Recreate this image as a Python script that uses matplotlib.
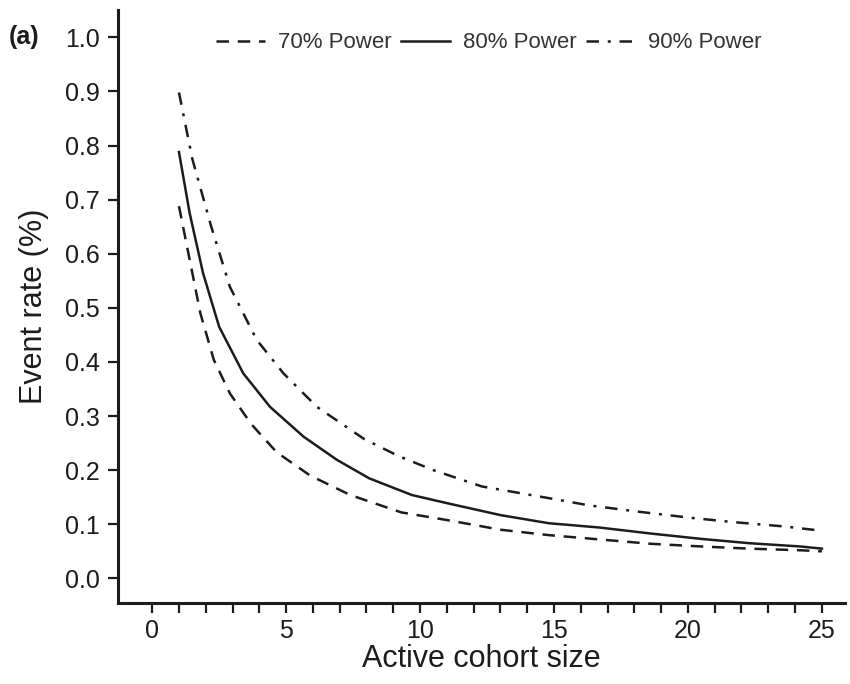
import matplotlib
matplotlib.use('Agg')
import matplotlib.pyplot as plt
from matplotlib.ticker import MultipleLocator, FixedLocator, FormatStrFormatter

plt.rcParams['font.family'] = ['Liberation Sans', 'DejaVu Sans']

# ── data ───────────────────────────────────────────────────────────────────
x70 = [1.0, 1.4, 1.8, 2.3, 2.9, 3.7, 4.65, 5.9, 7.4, 9.3, 11.1, 13.0, 14.8,
       16.7, 18.6, 20.5, 22.3, 24.2, 25.0]
y70 = [0.688, 0.589, 0.49, 0.404, 0.342, 0.285, 0.233, 0.19, 0.154, 0.122,
       0.107, 0.090, 0.080, 0.072, 0.064, 0.059, 0.055, 0.052, 0.050]

x80 = [1.0, 1.4, 1.9, 2.5, 3.4, 4.4, 5.65, 6.9, 8.1, 9.7, 11.1, 13.0, 14.8,
       16.7, 18.6, 20.5, 22.3, 24.2, 25.0]
y80 = [0.788, 0.675, 0.564, 0.465, 0.379, 0.317, 0.262, 0.219, 0.185, 0.154,
       0.138, 0.117, 0.102, 0.094, 0.083, 0.073, 0.065, 0.059, 0.055]

x90 = [1.0, 1.5, 2.2, 2.9, 3.9, 4.9, 6.15, 7.9, 9.2, 10.5, 12.3, 14.5, 15.3,
       16.3, 18.2, 20.1, 21.7, 23.6, 25.0]
y90 = [0.898, 0.775, 0.651, 0.539, 0.441, 0.379, 0.317, 0.258, 0.226, 0.200,
       0.170, 0.151, 0.144, 0.135, 0.123, 0.112, 0.104, 0.096, 0.088]

labels = ['70% Power', '80% Power', '90% Power']
xminor = list(range(0, 26))

# ── plot ───────────────────────────────────────────────────────────────────
ink = '#1c1c1c'
fig = plt.figure(figsize=(8.5, 6.84), dpi=100)
ax = fig.add_axes([0.139, 0.118, 0.855, 0.867])

ax.plot(x70, y70, color=ink, lw=1.8, linestyle=(0, (5, 3.5)), label=labels[0])
ax.plot(x80, y80, color=ink, lw=1.8, linestyle='-', label=labels[1])
ax.plot(x90, y90, color=ink, lw=1.8, linestyle=(0, (5, 3.5, 1.2, 3.5)), label=labels[2])

ax.set_xlim(-1.27, 25.86)
ax.set_ylim(-0.046, 1.05)

ax.xaxis.set_major_locator(MultipleLocator(5))
ax.xaxis.set_minor_locator(FixedLocator(xminor))
ax.yaxis.set_major_locator(MultipleLocator(0.1))
ax.yaxis.set_major_formatter(FormatStrFormatter('%.1f'))

for s in ['top', 'right']:
    ax.spines[s].set_visible(False)
for s in ['left', 'bottom']:
    ax.spines[s].set_linewidth(2.2)
    ax.spines[s].set_color(ink)

ax.tick_params(which='both', direction='out', length=7, width=1.6,
               colors=ink, labelsize=18)
ax.tick_params(axis='x', pad=4)
ax.tick_params(axis='y', pad=6)

ax.set_xlabel('Active cohort size', fontsize=22, color=ink, labelpad=1)
ax.set_ylabel('Event rate (%)', fontsize=22, color=ink, labelpad=12)

leg = ax.legend(loc='center', bbox_to_anchor=(0.51, 0.945), ncol=3,
                frameon=False, fontsize=16, handlelength=2.2,
                handletextpad=0.6, columnspacing=0.4)
for t in leg.get_texts():
    t.set_color('#333333')

fig.text(0.01, 0.935, '(a)', fontsize=18, fontweight='bold', color=ink)

fig.savefig('out.png', dpi=100)
